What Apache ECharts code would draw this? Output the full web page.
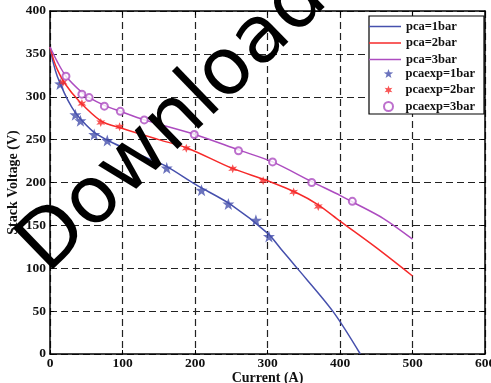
<!DOCTYPE html>
<html>
<head>
<meta charset="utf-8">
<script src="https://cdn.jsdelivr.net/npm/echarts@6/dist/echarts.min.js"></script>
<style>
  html, body { margin: 0; padding: 0; background: #fff; }
  #main { width: 491px; height: 383px; }
</style>
</head>
<body>
<div id="main"></div>
<script>
// model curves (pca = 1, 2, 3 bar)
const current1 = [0, 5, 10, 20, 30, 40, 60, 80, 100, 130, 160, 200, 250, 300, 320, 340, 390, 428]
const voltage1 = [358, 338, 324, 304, 288, 276, 259, 249, 241, 230, 219, 198, 174, 141, 121, 101, 50, 0]
const current2 = [0, 5, 10, 20, 40, 70, 100, 150, 190, 250, 300, 340, 370, 400, 450, 500]
const voltage2 = [358, 343, 332, 316, 295, 272, 263, 250, 240, 217, 202, 188, 174, 155, 124, 91]
const current3 = [0, 10, 22, 44, 54, 75, 97, 130, 200, 260, 307, 361, 400, 418, 460, 500]
const voltage3 = [358, 341, 324, 305, 299, 290, 283, 273, 256, 238, 224, 201, 185, 177, 158, 134]

// measured points
const expCurrent1 = [14, 35, 42, 61, 79, 161, 209, 246, 284, 302]
const expVoltage1 = [315, 279, 272, 256, 249, 217, 191, 175, 156, 137]
const expCurrent2 = [18, 44, 70, 96, 188, 252, 294, 336, 370]
const expVoltage2 = [317, 292, 270, 265, 240, 216, 202, 189, 172]
const expCurrent3 = [22, 44, 54, 75, 97, 130, 199, 260, 307, 361, 417]
const expVoltage3 = [324, 303, 299, 289, 283, 273, 256, 237, 224, 200, 178]

const lineNames = ['pca=1bar', 'pca=2bar', 'pca=3bar']
const expNames = ['pcaexp=1bar', 'pcaexp=2bar', 'pcaexp=3bar']

const BLUE = '#4650ad'
const RED = '#f62a2a'
const MAGENTA = '#ad4cc0'
const serif = 'Liberation Serif'

// symbol shapes
const star5 = 'path://M0,-10 L2.35,-3.24 L9.51,-3.09 L3.8,1.24 L5.88,8.09 L0,4 L-5.88,8.09 L-3.8,1.24 L-9.51,-3.09 L-2.35,-3.24 Z'
const spark = 'path://M0,-10 L2.2,-3.8 L8.66,-5 L4.4,0 L8.66,5 L2.2,3.8 L0,10 L-2.2,3.8 L-8.66,5 L-4.4,0 L-8.66,-5 L-2.2,-3.8 Z'

function zip(xs, ys) {
  return xs.map((x, i) => [x, ys[i]])
}

function lineSeries(name, xs, ys, color) {
  return {
    name: name,
    type: 'line',
    data: zip(xs, ys),
    smooth: 0.3,
    symbol: 'none',
    showSymbol: false,
    lineStyle: { color: color, width: 1.5 },
    itemStyle: { color: color },
    z: 2
  }
}

function expSeries(name, xs, ys, symbol, size, itemStyle) {
  return {
    name: name,
    type: 'scatter',
    data: zip(xs, ys),
    symbol: symbol,
    symbolSize: size,
    itemStyle: itemStyle,
    z: 3
  }
}

const labelFont = { fontFamily: serif, fontWeight: 'bold', fontSize: 13.5, color: '#111' }
const nameFont = { fontFamily: serif, fontWeight: 'bold', fontSize: 14, color: '#111' }
const legendText = { fontFamily: serif, fontWeight: 'bold', fontSize: 12.5, color: '#111', lineHeight: 13 }

const chart = echarts.init(document.getElementById('main'), null, { renderer: 'canvas' })

chart.setOption({
  animation: false,
  backgroundColor: '#fff',
  grid: { left: 50, right: 6, top: 11, bottom: 29, outerBoundsMode: 'none', containLabel: false },
  xAxis: [{
    type: 'value',
    min: 0, max: 600, interval: 100,
    name: 'Current (A)',
    nameLocation: 'middle',
    nameGap: 17,
    nameMoveOverlap: false,
    nameTextStyle: nameFont,
    axisLine: { show: true, lineStyle: { color: '#000', width: 1.5 } },
    axisTick: { show: true, inside: true, length: 4, lineStyle: { color: '#000' } },
    axisLabel: Object.assign({ margin: 3 }, labelFont),
    splitLine: { show: true, lineStyle: { color: '#222', width: 1.2, type: [7, 4] } }
  }, {
    type: 'value', position: 'top',
    min: 0, max: 600, interval: 100,
    axisLine: { show: true, onZero: false, lineStyle: { color: '#000', width: 1.5 } },
    axisTick: { show: true, inside: true, length: 4, lineStyle: { color: '#000' } },
    axisLabel: { show: false },
    splitLine: { show: false }
  }],
  yAxis: [{
    type: 'value',
    min: 0, max: 400, interval: 50,
    name: 'Stack Voltage (V)',
    nameLocation: 'middle',
    nameGap: 30,
    nameMoveOverlap: false,
    nameTextStyle: nameFont,
    axisLine: { show: true, lineStyle: { color: '#000', width: 1.5 } },
    axisTick: { show: true, inside: true, length: 4, lineStyle: { color: '#000' } },
    axisLabel: Object.assign({ margin: 4 }, labelFont),
    splitLine: { show: true, lineStyle: { color: '#222', width: 1.2, type: [7, 4] } }
  }, {
    type: 'value', position: 'right',
    min: 0, max: 400, interval: 50,
    axisLine: { show: true, onZero: false, lineStyle: { color: '#000', width: 1.5 } },
    axisTick: { show: true, inside: true, length: 4, lineStyle: { color: '#000' } },
    axisLabel: { show: false },
    splitLine: { show: false }
  }],
  legend: [{
    data: lineNames.map(n => ({ name: n, icon: 'rect' })),
    orient: 'vertical',
    left: 369, top: 20,
    padding: 0,
    itemWidth: 32, itemHeight: 1.5,
    itemGap: 3.5,
    textStyle: legendText,
    z: 6
  }, {
    data: expNames,
    orient: 'vertical',
    left: 383, top: 67,
    padding: 0,
    itemWidth: 10, itemHeight: 9,
    itemGap: 3.5,
    textStyle: Object.assign({ padding: [0, 0, 0, 7] }, legendText),
    z: 6
  }],
  graphic: [{
    type: 'rect',
    shape: { x: 369, y: 16, width: 115, height: 98 },
    style: { fill: '#fff', stroke: '#000', lineWidth: 1.2 },
    z: 5,
    silent: true
  }, {
    // watermark over the figure
    type: 'text',
    x: 33, y: 260,
    rotation: 44 * Math.PI / 180,
    style: {
      text: 'Download',
      fill: '#000',
      font: 'normal 79px "DejaVu Sans"',
      textAlign: 'left',
      textVerticalAlign: 'middle'
    },
    z: 100,
    silent: true
  }],
  series: [
    lineSeries(lineNames[0], current1, voltage1, BLUE),
    lineSeries(lineNames[1], current2, voltage2, RED),
    lineSeries(lineNames[2], current3, voltage3, MAGENTA),
    expSeries(expNames[0], expCurrent1, expVoltage1, star5, 12, { color: BLUE }),
    expSeries(expNames[1], expCurrent2, expVoltage2, spark, 9, { color: RED }),
    expSeries(expNames[2], expCurrent3, expVoltage3, 'emptyCircle', 7,
      { color: MAGENTA, borderColor: MAGENTA, borderWidth: 1.5 })
  ]
})
</script>
</body>
</html>
